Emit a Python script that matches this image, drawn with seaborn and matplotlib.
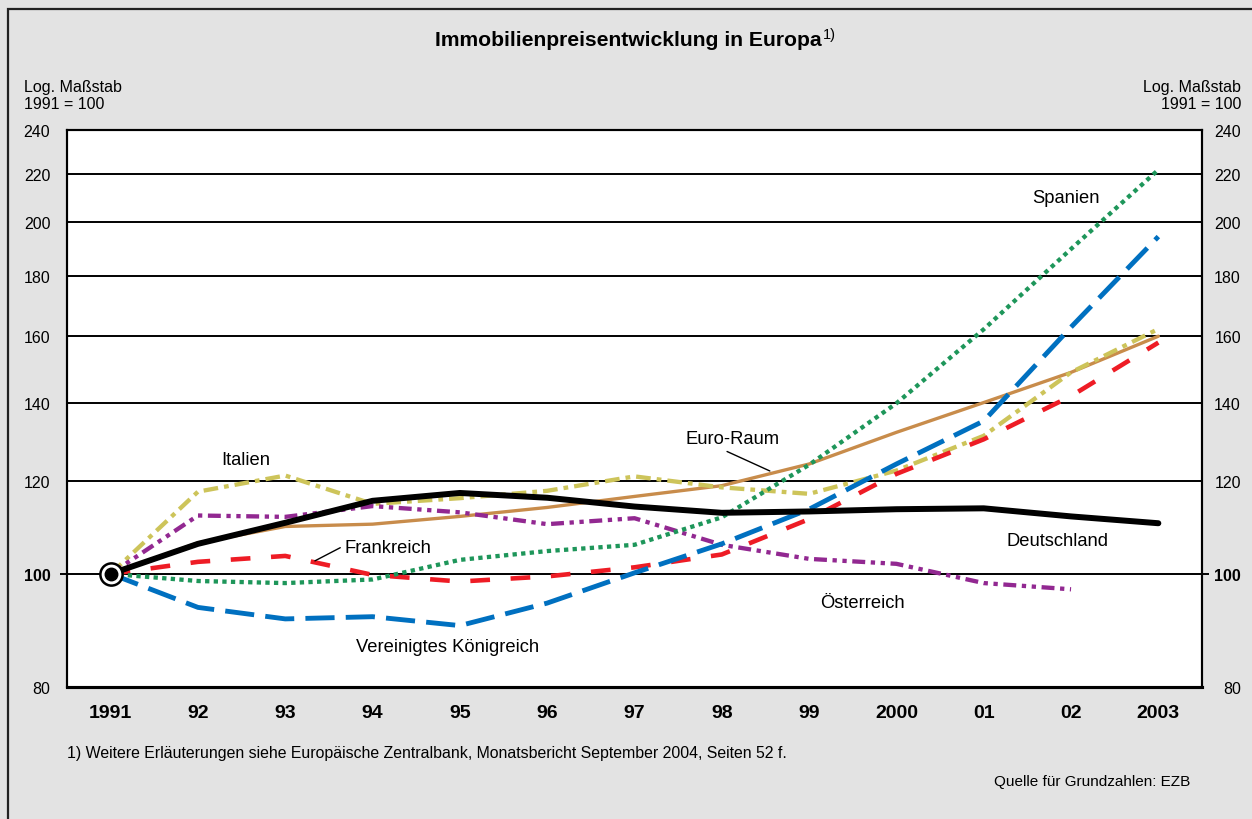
import numpy as np
import pandas as pd
import matplotlib.pyplot as plt
import matplotlib.patches as patches
import seaborn as sns

# data (1991 = 100, log scale) ----
years = list(range(1991, 2004))
year_labels = ['1991', '92', '93', '94', '95', '96', '97', '98', '99', '2000', '01', '02', '2003']

euro_raum = [100, 106.3, 109.8, 110.3, 112.0, 114.0, 116.5, 119.0, 124.2, 132.2, 140.2, 148.8, 159.8]
italien = [100, 117.6, 121.4, 114.8, 116.1, 117.8, 121.2, 118.6, 117.1, 122.6, 131.3, 148.8, 162.1]
oesterreich = [100, 112.2, 111.9, 114.3, 112.9, 110.3, 111.6, 105.9, 103.0, 102.0, 98.2, 97.0, np.nan]
frankreich = [100, 102.4, 103.6, 99.8, 98.5, 99.5, 101.3, 103.9, 111.4, 121.8, 130.4, 142.0, 157.8]
uk = [100, 93.6, 91.5, 91.9, 90.3, 94.4, 100.2, 106.1, 113.6, 124.2, 135.2, 162.7, 194.5]
spanien = [100, 98.6, 98.2, 98.9, 102.8, 104.6, 105.9, 111.8, 124.0, 140.0, 162.0, 189.8, 221.9]
deutschland = [100, 106.1, 110.6, 115.5, 117.3, 116.2, 114.2, 112.8, 113.1, 113.6, 113.8, 112.0, 110.5]

y_ticks = [80, 100, 120, 140, 160, 180, 200, 220, 240]

df = pd.DataFrame({'year': years, 'Euro-Raum': euro_raum, 'Italien': italien,
                   'Österreich': oesterreich, 'Frankreich': frankreich,
                   'Vereinigtes Königreich': uk, 'Spanien': spanien,
                   'Deutschland': deutschland})

# styles per series: colour, linewidth, linestyle
styles = {
    'Euro-Raum': ('#c88c4b', 2.4, '-'),
    'Italien': ('#cdc45a', 3.1, (0, (3.4, 1.4, 1.1, 1.4))),
    'Österreich': ('#922891', 3.1, (0, (3.0, 1.3, 1.0, 1.3, 1.0, 1.3))),
    'Frankreich': ('#ee1c25', 3.3, (0, (4.3, 4.5))),
    'Vereinigtes Königreich': ('#0070c0', 3.5, (0, (6.0, 2.3))),
    'Spanien': ('#1e965a', 3.1, (0, (1.0, 1.0))),
    'Deutschland': ('black', 4.3, '-'),
}

sns.set_style('white')
plt.rcParams['font.family'] = ['Liberation Sans', 'DejaVu Sans']
plt.rcParams['text.color'] = 'black'
plt.rcParams['xtick.color'] = 'black'
plt.rcParams['ytick.color'] = 'black'
plt.rcParams['axes.labelcolor'] = 'black'

bg = '#e3e3e3'
fig = plt.figure(figsize=(12.52, 8.2), dpi=100, facecolor=bg)
ax = fig.add_axes([67 / 1252, 1 - 688 / 820, (1202 - 67) / 1252, (688 - 131) / 820])
ax.set_facecolor('white')
ax.set_yscale('log')

for name, (col, lw, ls) in styles.items():
    sns.lineplot(data=df, x='year', y=name, ax=ax, color=col, lw=lw,
                 linestyle=ls, zorder=3)

# start point marker
ax.plot([years[0]], [deutschland[0]], 'o', ms=16, mfc='white', mec='black', mew=1.8, zorder=5)
ax.plot([years[0]], [deutschland[0]], 'o', ms=9, color='black', zorder=6)

ax.set_xlim(1990.5, 2003.5)
ax.set_ylim(80, 240)
ax.set_xlabel('')
ax.set_ylabel('')

# x axis: labels centred on years, tick marks between years
ax.set_xticks(years)
ax.set_xticklabels(year_labels, fontsize=14, fontweight='bold')
ax.set_xticks(np.arange(1990.5, 2004, 1), minor=True)
ax.tick_params(axis='x', which='major', length=0, pad=12)
ax.tick_params(axis='x', which='minor', length=6, width=1.1, direction='out', color='black')

# y axis (log, fixed ticks)
ax.yaxis.set_minor_locator(plt.NullLocator())
ax.set_yticks(y_ticks)
ax.set_yticklabels([str(t) for t in y_ticks], fontsize=11.5)
ax.tick_params(axis='y', which='major', length=0, pad=12)
for t in ax.get_yticklabels():
    if t.get_text() == '100':
        t.set_fontweight('bold')
ax.grid(axis='y', color='black', lw=1.4, zorder=1)
ax.grid(axis='x', visible=False)
ax.set_axisbelow(True)
for tick, val in zip(ax.yaxis.get_major_ticks(), y_ticks):
    if val == 100:
        tick.tick1line.set_markersize(5)
        tick.tick1line.set_markeredgewidth(1.4)

ax2 = ax.twinx()
ax2.set_yscale('log')
ax2.set_ylim(80, 240)
ax2.yaxis.set_minor_locator(plt.NullLocator())
ax2.set_yticks(y_ticks)
ax2.set_yticklabels([str(t) for t in y_ticks], fontsize=11.5, ha='right')
ax2.tick_params(axis='y', which='major', length=0, pad=28)
for t in ax2.get_yticklabels():
    if t.get_text() == '100':
        t.set_fontweight('bold')
for tick, val in zip(ax2.yaxis.get_major_ticks(), y_ticks):
    if val == 100:
        tick.tick2line.set_markersize(5)
        tick.tick2line.set_markeredgewidth(1.4)

for a in (ax, ax2):
    for s in ['left', 'right', 'top']:
        a.spines[s].set_linewidth(1.5)
        a.spines[s].set_color('black')
    a.spines['bottom'].set_linewidth(2.2)
    a.spines['bottom'].set_color('black')

# series labels
lab = dict(fontsize=13.2, color='black', va='center', zorder=7)
ax.text(1992.55, 125.4, 'Italien', ha='center', **lab)
ax.text(1993.68, 105.4, 'Frankreich', ha='left', **lab)
ax.plot([1993.34, 1993.63], [102.6, 105.3], color='black', lw=1, zorder=7)
ax.text(1998.12, 130.5, 'Euro-Raum', ha='center', **lab)
ax.plot([1998.06, 1998.55], [127.3, 122.5], color='black', lw=1, zorder=7)
ax.text(2001.94, 209.9, 'Spanien', ha='center', **lab)
ax.text(2001.84, 106.9, 'Deutschland', ha='center', **lab)
ax.text(1999.61, 94.6, 'Österreich', ha='center', **lab)
ax.text(1994.86, 86.6, 'Vereinigtes Königreich', ha='center', **lab)

# title and side notes
title = fig.text(628 / 1252, 1 - 40 / 820, 'Immobilienpreisentwicklung in Europa',
                 ha='center', va='center', fontsize=15.2, fontweight='bold')
fig.canvas.draw()
ax.annotate('1)', xy=(1.0, 0.75), xycoords=title, xytext=(1, 0), textcoords='offset points',
            fontsize=10.5, ha='left', va='center', annotation_clip=False)
fig.text(24 / 1252, 1 - 96 / 820, 'Log. Maßstab\n1991 = 100', ha='left', va='center',
         fontsize=11.5, linespacing=1.1)
fig.text(1241 / 1252, 1 - 96 / 820, 'Log. Maßstab\n1991 = 100', ha='right', va='center',
         fontsize=11.5, linespacing=1.1, multialignment='right')
fig.text(67 / 1252, 1 - 754 / 820,
         '1) Weitere Erläuterungen siehe Europäische Zentralbank, Monatsbericht September 2004, Seiten 52 f.',
         ha='left', va='center', fontsize=11.4)
fig.text(1190 / 1252, 1 - 782 / 820, 'Quelle für Grundzahlen: EZB', ha='right', va='center',
         fontsize=11)

# frame around the whole figure
fig.patches.append(patches.Rectangle((8 / 1252, -0.05), 1.1, 1 - 10 / 820 + 0.05,
                                     transform=fig.transFigure, fill=False,
                                     edgecolor='#222222', lw=1.6))

fig.savefig('out.png', dpi=100, facecolor=bg)
